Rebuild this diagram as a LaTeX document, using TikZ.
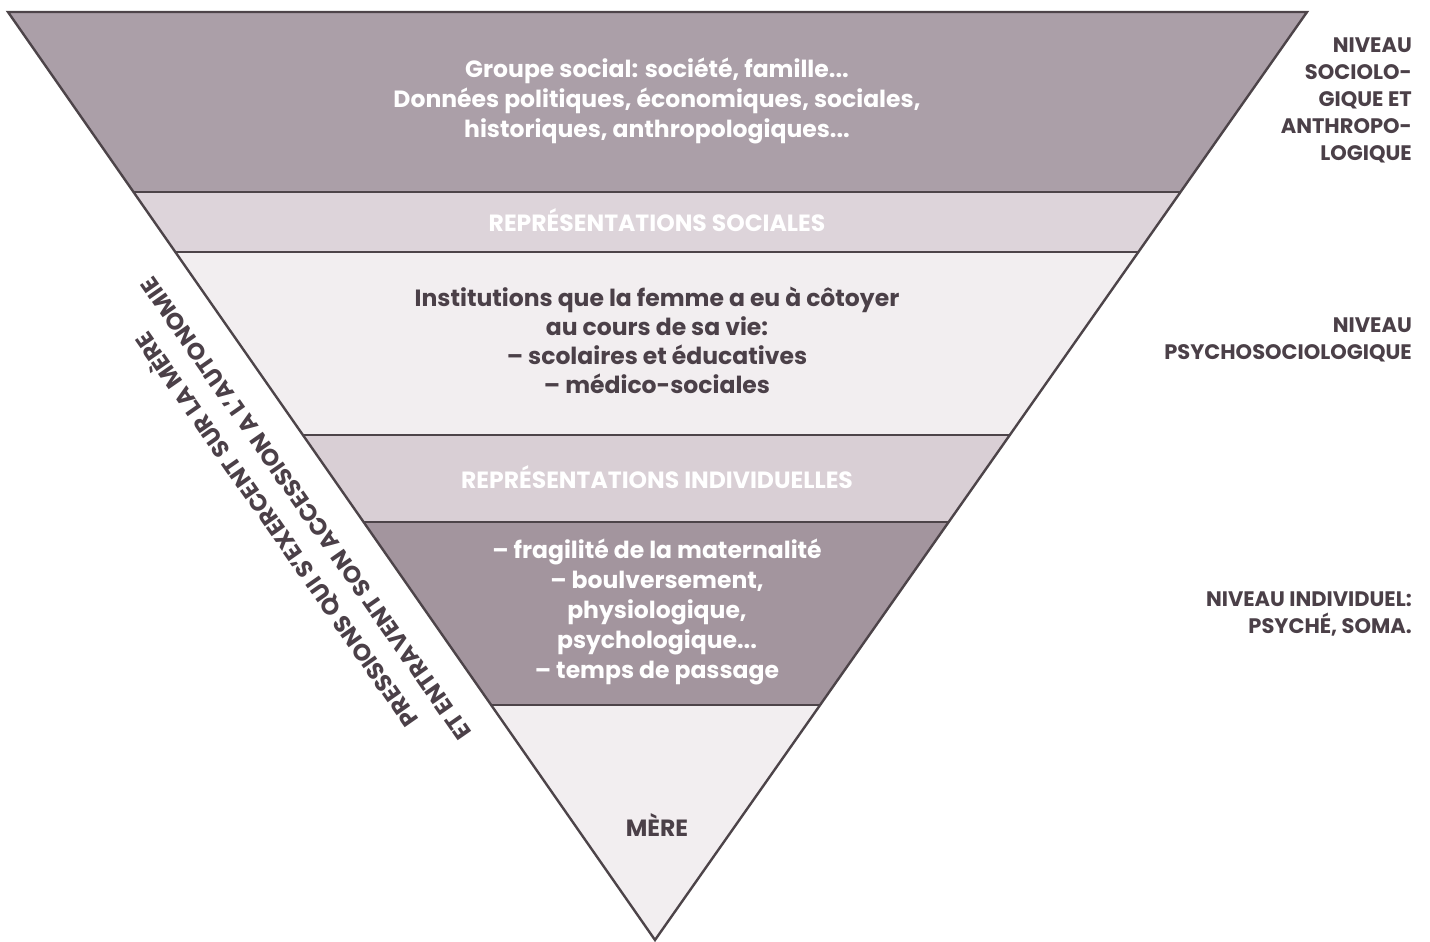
\documentclass[tikz,border=0pt]{standalone}
\usepackage{fontspec}
\setmainfont{Poppins}
\definecolor{edgec}{HTML}{4D4449}
\definecolor{txtc}{HTML}{4B4048}
\definecolor{cdark}{HTML}{AB9FA8}
\definecolor{cdarkb}{HTML}{A3959E}
\definecolor{clight}{HTML}{DDD4DA}
\definecolor{clightb}{HTML}{D9CFD5}
\definecolor{cpale}{HTML}{F2EEF0}
\begin{document}
\begin{tikzpicture}[x=1pt,y=-1pt,
  bandline/.style={line width=2.4pt, draw=edgec},
  whitetxt/.style={text=white, font=\bfseries\fontsize{23.5}{30}\selectfont, align=center},
  darktxt/.style={text=txtc, font=\bfseries\fontsize{23.5}{29}\selectfont, align=center},
  lvl/.style={text=txtc, font=\bfseries\fontsize{21}{27}\selectfont, align=right, anchor=east, inner sep=0pt}]
\useasboundingbox (0,0) rectangle (1430,942);
\coordinate (A) at (8,12);
\coordinate (B) at (1307,12);
\coordinate (C) at (655,940);
\begin{scope}
  \clip (A) -- (B) -- (C) -- cycle;
  \fill[cdark] (0,0) rectangle (1430,192);
  \fill[clight] (0,192) rectangle (1430,252);
  \fill[cpale] (0,252) rectangle (1430,435);
  \fill[clightb] (0,435) rectangle (1430,522);
  \fill[cdarkb] (0,522) rectangle (1430,705);
  \fill[cpale] (0,705) rectangle (1430,942);
  \foreach \yy in {192,252,435,522,705} \draw[bandline] (0,\yy) -- (1430,\yy);
\end{scope}
\draw[bandline, line join=miter] (A) -- (B) -- (C) -- cycle;

\node[whitetxt] (t1) at (657,101) {Groupe social: société, famille...\\Données politiques, économiques, sociales,\\historiques, anthropologiques...};
\node[whitetxt] (t2) at (657,220) {REPRÉSENTATIONS SOCIALES};
\node[darktxt] (t3) at (657,340) {Institutions que la femme a eu à côtoyer\\au cours de sa vie:\\– scolaires et éducatives\\– médico-sociales};
\node[whitetxt] (t4) at (657,477) {REPRÉSENTATIONS INDIVIDUELLES};
\node[whitetxt] (t5) at (657,612) {– fragilité de la maternalité\\– boulversement,\\physiologique,\\psychologique...\\– temps de passage};
\node[darktxt] (t6) at (657,825) {MÈRE};

\node[lvl] (l1) at (1412,100) {NIVEAU\\SOCIOLO-\\GIQUE ET\\ANTHROPO-\\LOGIQUE};
\node[lvl] (l2) at (1412,340) {NIVEAU\\PSYCHOSOCIOLOGIQUE};
\node[lvl] (l3) at (1412,614) {NIVEAU INDIVIDUEL:\\PSYCHÉ, SOMA.};

\node[text=txtc, font=\bfseries\fontsize{23.5}{36}\selectfont, align=center, rotate=124.9, inner sep=0pt] (side) at (289,521)
  {PRESSIONS QUI S’EXERCENT SUR LA MÈRE\\ET ENTRAVENT SON ACCESSION A L’AUTONOMIE};
\end{tikzpicture}
\end{document}
